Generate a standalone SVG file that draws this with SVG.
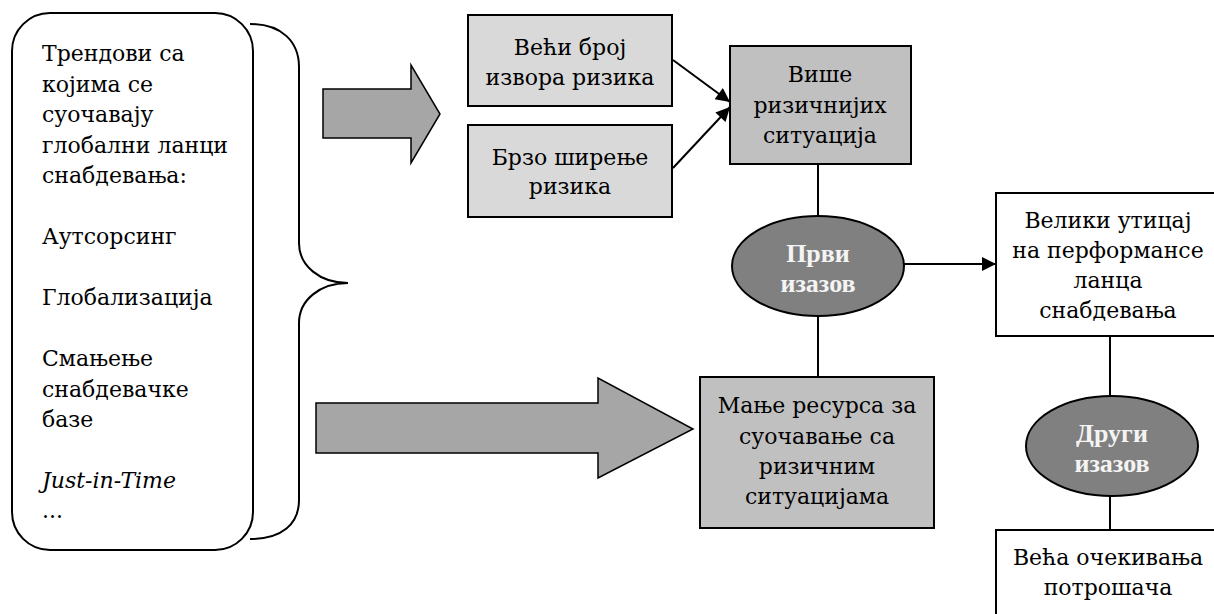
<svg xmlns="http://www.w3.org/2000/svg" width="1214" height="614" viewBox="0 0 1214 614">
  <style>
    text { font-family: 'DejaVu Serif', serif; font-size: 22px; fill: #000; }
    .c { text-anchor: middle; }
    .w { fill: #f4f4f4; font-family: 'Liberation Serif', 'DejaVu Serif', serif; font-size: 26px; font-weight: 700; }
    .box { stroke: #000; stroke-width: 2; }
    .light { fill: #d9d9d9; }
    .mid { fill: #c0c0c0; }
    .plain { fill: #fff; }
    .oval { fill: #808080; stroke: #000; stroke-width: 2; }
    .big { fill: #a6a6a6; stroke: #000; stroke-width: 1.5; }
    .ln { stroke: #000; stroke-width: 2; fill: none; }
  </style>
  <defs>
    <marker id="ah" viewBox="0 0 10 10" refX="10" refY="5" markerWidth="16" markerHeight="14" markerUnits="userSpaceOnUse" orient="auto">
      <path d="M0,0 L10,5 L0,10 z" fill="#000"/>
    </marker>
  </defs>
  <rect width="1214" height="614" fill="#fff"/>

  <!-- trends list -->
  <g id="trends">
    <rect x="12" y="13" width="241" height="537" rx="38" ry="38" fill="#fff" stroke="#000" stroke-width="2"/>
    <text x="42" y="61">Трендови са</text>
    <text x="42" y="91.5">којима се</text>
    <text x="42" y="122">суочавају</text>
    <text x="42" y="152.5">глобални ланци</text>
    <text x="42" y="183">снабдевања:</text>
    <text x="42" y="244">Аутсорсинг</text>
    <text x="42" y="305">Глобализација</text>
    <text x="42" y="366">Смањење</text>
    <text x="42" y="396.5">снабдевачке</text>
    <text x="42" y="427">базе</text>
    <text x="42" y="488" font-style="italic">Just-in-Time</text>
    <text x="42" y="518">...</text>
  </g>

  <!-- curly brace -->
  <g id="brace">
    <path class="ln" d="M250,24 C282,24 299,42 299,67 L299,243 C299,266 320,283 348,283 C320,283 299,300 299,323 L299,500 C299,524 282,539 250,539"/>
  </g>

  <!-- block arrows -->
  <g id="arrow-top">
    <path class="big" d="M323,89 L411,89 L411,65 L440,114 L411,163 L411,138 L323,138 z"/>
  </g>
  <g id="arrow-bottom">
    <path class="big" d="M316,403 L598,403 L598,378 L693,429 L598,478 L598,453 L316,453 z"/>
  </g>

  <g id="more-sources">
    <rect class="box light" x="468" y="15" width="204" height="91"/>
    <text class="c" x="570" y="55">Већи број</text>
    <text class="c" x="570" y="85">извора ризика</text>
  </g>

  <g id="fast-spread">
    <rect class="box light" x="468" y="125" width="204" height="92"/>
    <text class="c" x="570" y="165">Брзо ширење</text>
    <text class="c" x="570" y="194">ризика</text>
  </g>

  <g id="riskier">
    <rect class="box mid" x="730" y="46" width="181" height="118"/>
    <text class="c" x="820" y="82">Више</text>
    <text class="c" x="820" y="113">ризичнијих</text>
    <text class="c" x="820" y="143">ситуација</text>
  </g>

  <g id="first-challenge">
    <ellipse class="oval" cx="818" cy="266" rx="86" ry="50"/>
    <text class="c w" x="818" y="262">Први</text>
    <text class="c w" x="818" y="292">изазов</text>
  </g>

  <g id="fewer-resources">
    <rect class="box mid" x="700" y="377" width="234" height="151"/>
    <text class="c" x="817" y="413">Мање ресурса за</text>
    <text class="c" x="817" y="444">суочавање са</text>
    <text class="c" x="817" y="474">ризичним</text>
    <text class="c" x="817" y="504">ситуацијама</text>
  </g>

  <g id="impact">
    <rect class="box plain" x="996" y="193" width="224" height="143"/>
    <text class="c" x="1108" y="228">Велики утицај</text>
    <text class="c" x="1108" y="258">на перформансе</text>
    <text class="c" x="1108" y="288">ланца</text>
    <text class="c" x="1108" y="318">снабдевања</text>
  </g>

  <g id="second-challenge">
    <ellipse class="oval" cx="1112" cy="446" rx="86" ry="50"/>
    <text class="c w" x="1112" y="442">Други</text>
    <text class="c w" x="1112" y="472">изазов</text>
  </g>

  <g id="expectations">
    <rect class="box plain" x="996" y="530" width="224" height="100"/>
    <text class="c" x="1108" y="565">Већа очекивања</text>
    <text class="c" x="1108" y="595">потрошача</text>
  </g>

  <!-- connectors -->
  <g id="connectors">
    <line class="ln" x1="673" y1="60" x2="730" y2="102" marker-end="url(#ah)" stroke-width="1.5"/>
    <line class="ln" x1="673" y1="168" x2="730" y2="107" marker-end="url(#ah)" stroke-width="1.5"/>
    <line class="ln" x1="818" y1="164" x2="818" y2="216"/>
    <line class="ln" x1="818" y1="316" x2="818" y2="377"/>
    <line class="ln" x1="904" y1="264" x2="996" y2="264" marker-end="url(#ah)"/>
    <line class="ln" x1="1110" y1="336" x2="1110" y2="396"/>
    <line class="ln" x1="1110" y1="496" x2="1110" y2="530"/>
  </g>
</svg>
